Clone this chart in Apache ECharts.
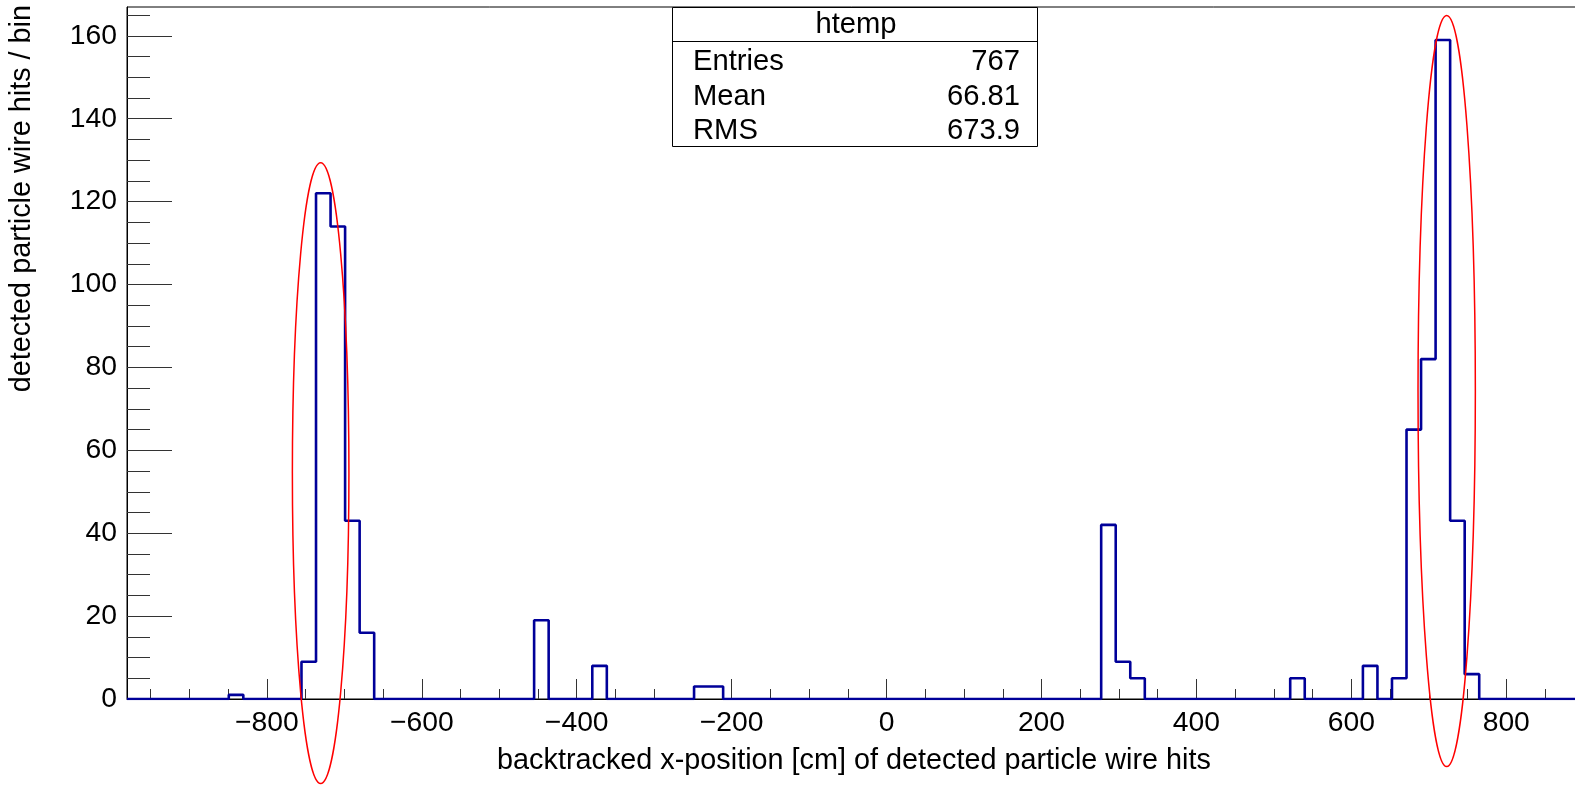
<!DOCTYPE html>
<html>
<head>
<meta charset="utf-8">
<script src="https://cdn.jsdelivr.net/npm/echarts@6/dist/echarts.min.js"></script>
<style>
html,body{margin:0;padding:0;background:#ffffff;}
#chart{width:1575px;height:785px;}
</style>
</head>
<body>
<div id="chart"></div>
<script>
// ---- histogram definition ----
const xMin = -980.6;
const xMax = 896.5;
const nBins = 100;
const filledBins = [7, 12, 13, 14, 15, 16, 28, 32, 39, 40, 67, 68, 69, 80, 85, 87, 88, 89, 90, 91, 92];
const binCounts  = [1, 9, 122, 114, 43, 16, 19, 8, 3, 3, 42, 9, 5, 5, 8, 5, 65, 82, 159, 43, 6];
const yMin = 0;
const yMax = 166.95;

// ---- ticks ----
const xMajorTicks = [-800, -600, -400, -200, 0, 200, 400, 600, 800];
const xMinorTicks = [-950, -900, -850, -750, -700, -650, -550, -500, -450, -350, -300, -250, -150, -100, -50,
                     50, 100, 150, 250, 300, 350, 450, 500, 550, 650, 700, 750, 850];
const yMajorTicks = [0, 20, 40, 60, 80, 100, 120, 140, 160];
const yMinorTicks = [5, 10, 15, 25, 30, 35, 45, 50, 55, 65, 70, 75, 85, 90, 95, 105, 110, 115,
                     125, 130, 135, 145, 150, 155, 165];

// ---- annotation ellipses (data coordinates: centre x, centre y, radius x, radius y) ----
const ellipseCx = [-730.6, 723.1];
const ellipseCy = [54.5, 74.3];
const ellipseRx = [36.5, 37.0];
const ellipseRy = [74.9, 90.6];

// ---- texts ----
const xTitle = 'backtracked x-position [cm] of detected particle wire hits';
const yTitle = 'detected particle wire hits / bin';
const statTitle = 'htemp';
const statNames = ['Entries', 'Mean', 'RMS'];
const statValues = ['767', '66.81', '673.9'];

// ---- build step outline from bins ----
const binWidth = (xMax - xMin) / nBins;
const counts = new Array(nBins).fill(0);
filledBins.forEach((b, i) => { counts[b] = binCounts[i]; });
const stepData = counts.map((c, i) => [xMin + i * binWidth, c]);
stepData.push([xMax, counts[nBins - 1]]);

const ellipseData = ellipseCx.map((cx, i) => [cx, ellipseCy[i], ellipseRx[i], ellipseRy[i]]);

const FONT = '"Liberation Sans", Arial, Helvetica, sans-serif';
const FS = 28.3;
const FT = 28.8;
const FSTAT = 29.2;
const fmtMinus = v => (v < 0 ? '\u2212' + Math.abs(v) : String(v));

const chart = echarts.init(document.getElementById('chart'), null, {renderer: 'canvas'});

const statRowY = [62, 96.5, 131];
const statGraphics = [
  {type: 'rect', shape: {x: 672.5, y: 7.5, width: 365, height: 139}, style: {fill: '#fff', stroke: '#000', lineWidth: 1}, z: 100},
  {type: 'line', shape: {x1: 672.5, y1: 41.5, x2: 1037.5, y2: 41.5}, style: {stroke: '#000', lineWidth: 1}, z: 101},
  {type: 'text', x: 856, y: 25, style: {text: statTitle, font: FSTAT + 'px ' + FONT, fill: '#000', align: 'center', verticalAlign: 'middle'}, z: 102}
];
statNames.forEach((n, i) => {
  statGraphics.push({type: 'text', x: 693, y: statRowY[i], style: {text: n, font: FSTAT + 'px ' + FONT, fill: '#000', align: 'left', verticalAlign: 'middle'}, z: 102});
  statGraphics.push({type: 'text', x: 1020, y: statRowY[i], style: {text: statValues[i], font: FSTAT + 'px ' + FONT, fill: '#000', align: 'right', verticalAlign: 'middle'}, z: 102});
});

const option = {
  animation: false,
  backgroundColor: '#ffffff',
  textStyle: {fontFamily: FONT},
  grid: {
    left: 127, right: -6, top: 7, bottom: 86,
    show: true, borderColor: '#000', borderWidth: 1,
    outerBoundsMode: 'none', containLabel: false
  },
  xAxis: [
    {
      type: 'value', min: xMin, max: xMax, position: 'bottom',
      axisLine: {show: true, onZero: false, lineStyle: {color: '#000', width: 1}},
      axisTick: {show: true, inside: true, length: 20, customValues: xMajorTicks, lineStyle: {color: '#333', width: 1}},
      axisLabel: {show: true, customValues: xMajorTicks, formatter: fmtMinus, color: '#000', fontSize: FS, fontFamily: FONT, margin: 10},
      splitLine: {show: false},
      name: xTitle, nameLocation: 'middle', nameGap: 48,
      nameTextStyle: {color: '#000', fontSize: FT, fontFamily: FONT}
    },
    {
      type: 'value', min: xMin, max: xMax, position: 'bottom',
      axisLine: {show: false, onZero: false},
      axisTick: {show: true, inside: true, length: 10, customValues: xMinorTicks, lineStyle: {color: '#333', width: 1}},
      axisLabel: {show: false},
      splitLine: {show: false}
    }
  ],
  yAxis: [
    {
      type: 'value', min: yMin, max: yMax, position: 'left',
      axisLine: {show: true, onZero: false, lineStyle: {color: '#000', width: 1}},
      axisTick: {show: true, inside: true, length: 45, customValues: yMajorTicks, lineStyle: {color: '#333', width: 1}},
      axisLabel: {show: true, customValues: yMajorTicks, color: '#000', fontSize: FS, fontFamily: FONT, margin: 10},
      splitLine: {show: false}
    },
    {
      type: 'value', min: yMin, max: yMax, position: 'left',
      axisLine: {show: false, onZero: false},
      axisTick: {show: true, inside: true, length: 23, customValues: yMinorTicks, lineStyle: {color: '#333', width: 1}},
      axisLabel: {show: false},
      splitLine: {show: false}
    },
    {
      type: 'value', min: yMin, max: yMax, position: 'left', offset: 104.5,
      axisLine: {show: false, onZero: false},
      axisTick: {show: false},
      axisLabel: {show: false},
      splitLine: {show: false},
      name: yTitle, nameLocation: 'end', nameGap: 2, nameRotate: 90,
      nameTextStyle: {color: '#000', fontSize: FT, fontFamily: FONT, align: 'right', verticalAlign: 'middle'}
    }
  ],
  graphic: statGraphics,
  series: [
    {
      type: 'line', name: 'htemp', data: stepData, step: 'end',
      xAxisIndex: 0, yAxisIndex: 0,
      showSymbol: false, symbol: 'none',
      lineStyle: {color: '#000099', width: 2.6},
      itemStyle: {color: '#000099'},
      z: 2
    },
    {
      type: 'custom', name: 'ellipses', data: ellipseData,
      xAxisIndex: 0, yAxisIndex: 0,
      encode: {x: 0, y: 1},
      clip: false,
      z: 3,
      renderItem: function (params, api) {
        const c = api.coord([api.value(0), api.value(1)]);
        const s = api.size([api.value(2), api.value(3)]);
        return {
          type: 'ellipse',
          shape: {cx: c[0], cy: c[1], rx: s[0], ry: s[1]},
          style: {fill: null, stroke: '#ff0000', lineWidth: 1.5}
        };
      }
    }
  ]
};
chart.setOption(option);
</script>
</body>
</html>
